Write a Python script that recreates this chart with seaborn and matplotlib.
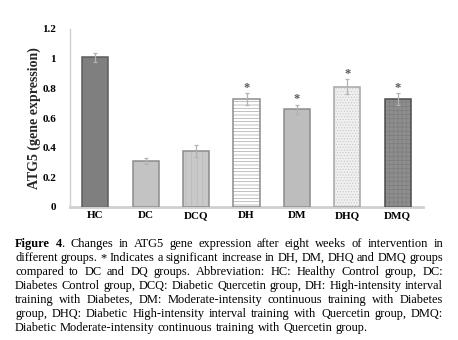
import numpy as np
import pandas as pd
import seaborn as sns
import matplotlib
matplotlib.use("Agg")
import matplotlib.pyplot as plt

# ---- data ----
groups = ["HC", "DC", "DCQ", "DH", "DM", "DHQ", "DMQ"]
values = [1.01, 0.31, 0.38, 0.73, 0.66, 0.81, 0.73]
errors = [0.03, 0.02, 0.04, 0.04, 0.03, 0.05, 0.04]
significant = [False, False, False, True, True, True, True]
yticks = [0, 0.2, 0.4, 0.6, 0.8, 1.0, 1.2]
ytick_labels = ["0", "0.2", "0.4", "0.6", "0.8", "1", "1.2"]
ylabel = "ATG5 (gene expression)"
caption_lines = [
    "Figure 4. Changes in ATG5 gene expression after eight weeks of intervention in",
    "different groups. * Indicates a significant increase in DH, DM, DHQ and DMQ groups",
    "compared to DC and DQ groups. Abbreviation: HC: Healthy Control group, DC:",
    "Diabetes Control group, DCQ: Diabetic Quercetin group, DH: High-intensity interval",
    "training with Diabetes, DM: Moderate-intensity continuous training with Diabetes",
    "group, DHQ: Diabetic High-intensity interval training with Quercetin group, DMQ:",
    "Diabetic Moderate-intensity continuous training with Quercetin group.",
]

# ---- styles ----
face_colors = ["#7f7f7f", "#c3c3c3", "#c9c9c9", "#ffffff", "#bdbdbd", "#f0f0f0", "#8e8e8e"]
hatch_colors = ["#7f7f7f", "#c3c3c3", "#b8b8b8", "#a8a8a8", "#bdbdbd", "#c8c8c8", "#7c7c7c"]
edge_colors = ["#5c5c5c", "#8c8c8c", "#8c8c8c", "#8c8c8c", "#8c8c8c", "#a6a6a6", "#4d4d4d"]
hatches = ["", "", "|||", "-----", "", "......", "++++"]

sns.set_theme(style="white")
plt.rcParams["font.family"] = ["Liberation Serif", "DejaVu Serif"]
plt.rcParams["hatch.linewidth"] = 0.5

W, H = 458, 340
fig = plt.figure(figsize=(W / 100, H / 100), dpi=100)
ax = fig.add_axes([70 / W, 1 - 207 / H, (423 - 70) / W, 178 / H])

df = pd.DataFrame({"group": groups, "value": values})
sns.barplot(data=df, x="group", y="value", hue="group", order=groups,
            palette=face_colors, width=0.52, errorbar=None, legend=False,
            ax=ax, linewidth=0, saturation=1)

for patch, hc, hatch in zip(ax.patches, hatch_colors, hatches):
    patch.set_edgecolor(hc)
    patch.set_hatch(hatch)
    patch.set_linewidth(0)

x = np.arange(len(groups))
ax.bar(x, values, width=0.52, fill=False, edgecolor=edge_colors, linewidth=1.1, zorder=3)
ax.errorbar(x, values, yerr=errors, fmt="none", ecolor="#b3b3b3",
            elinewidth=0.9, capsize=1.5, capthick=0.9, zorder=4)

for xi, v, e, s in zip(x, values, errors, significant):
    if s:
        ax.text(xi, v + e + 0.035, "*", ha="center", va="center",
                fontsize=9, color="#595959", fontweight="bold")

ax.set_xlim(-0.5, 6.5)
ax.set_ylim(0, 1.2)
ax.tick_params(axis="both", length=0, colors="#000000")
ax.tick_params(axis="y", pad=10)
ax.set_yticks(yticks)
ax.set_yticklabels(ytick_labels, fontsize=8, fontweight="bold")
ax.set_xticks(x)
ax.set_xticklabels([])
xtr = ax.get_xaxis_transform()
for xi, g in zip(x, groups):
    ax.text(xi, -11.5 / 178, g, transform=xtr, ha="center", va="baseline",
            fontsize=8, fontweight="bold", color="#000000", clip_on=False)
ax.set_xlabel("")
ax.set_ylabel(ylabel, fontsize=10, fontweight="bold", labelpad=1)
for side in ["top", "right"]:
    ax.spines[side].set_visible(False)
ax.spines["left"].set_color("#d0d0d0")
ax.spines["left"].set_linewidth(1.0)
ax.spines["bottom"].set_color("#d0d0d0")
ax.spines["bottom"].set_linewidth(2.0)

# ---- justified caption ----
renderer = fig.canvas.get_renderer()
fs = 8.9
x0, x1 = 15, 443
base0, step = 247, 14


def split_word(word, line_idx, word_idx):
    if line_idx == 0 and word_idx == 0:
        return [(word, "bold")]
    if line_idx == 0 and word_idx == 1:
        return [("4", "bold"), (".", "normal")]
    return [(word, "normal")]


def measure(seg, weight):
    t = fig.text(0, 0, seg, fontsize=fs, fontweight=weight)
    w = t.get_window_extent(renderer).width
    t.remove()
    return w


for li, line in enumerate(caption_lines):
    words = line.split(" ")
    segs = [split_word(w, li, wi) for wi, w in enumerate(words)]
    widths = [sum(measure(s, wt) for s, wt in sg) for sg in segs]
    total = sum(widths)
    if li < len(caption_lines) - 1:
        gap = (x1 - x0 - total) / (len(words) - 1)
    else:
        gap = measure(" ", "normal")
    y = base0 + li * step
    cx = x0
    for sg, wd in zip(segs, widths):
        sx = cx
        for s, wt in sg:
            fig.text(sx / W, 1 - y / H, s, fontsize=fs, fontweight=wt,
                     ha="left", va="baseline", color="#000000")
            sx += measure(s, wt)
        cx += wd + gap

fig.savefig("out.png", dpi=100)
